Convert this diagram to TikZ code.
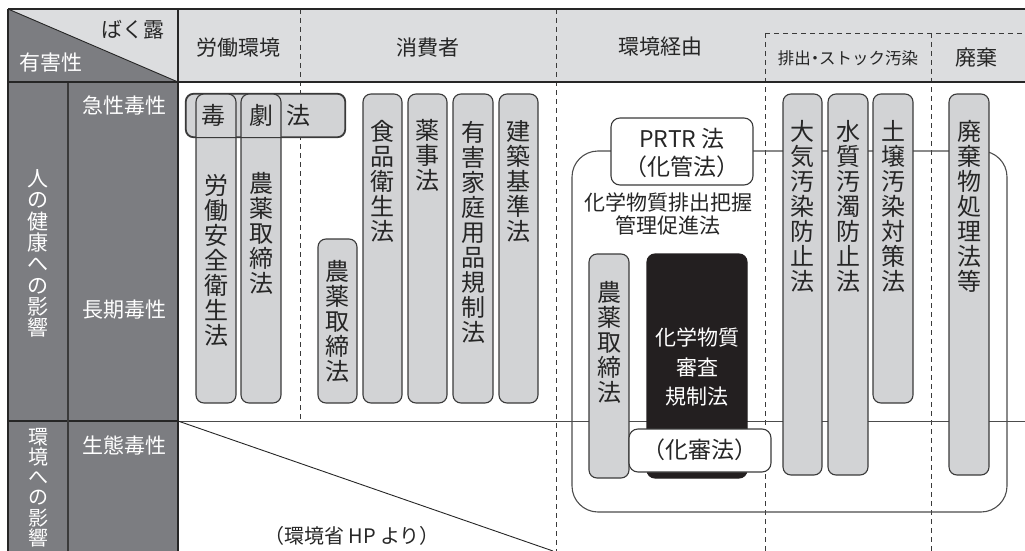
\documentclass[tikz,border=0pt]{standalone}
\usepackage{fontspec}
\setmainfont{Noto Sans CJK JP}
\newfontfamily\haltfont[RawFeature=+halt]{Noto Sans CJK JP}
\definecolor{dkgray}{HTML}{7C7D81}
\definecolor{ltgray}{HTML}{DCDDDF}
\definecolor{boxgray}{HTML}{D2D3D5}
\definecolor{edge}{HTML}{3A3A3A}
\definecolor{blk}{HTML}{231F20}
\begin{document}
\begin{tikzpicture}[x=1pt,y=-1pt,
  lawbox/.style={draw=edge, line width=1.1pt, fill=boxgray, rounded corners=8pt, inner sep=0pt},
  whitebox/.style={draw=edge, line width=1.1pt, fill=white, rounded corners=9pt, inner sep=0pt},
  blackbox/.style={draw=blk, line width=1.1pt, fill=blk, rounded corners=8pt, inner sep=0pt},
  lbl/.style={inner sep=0pt, font=\fontsize{21}{24}\selectfont, text=black!85},
  wlbl/.style={inner sep=0pt, font=\fontsize{21}{24}\selectfont, text=white},
  vtext/.style={inner sep=0pt, align=center, font=\fontsize{24}{25}\selectfont, text=black!85},
  wvtext/.style={inner sep=0pt, align=center, text=white},
  dashline/.style={draw=edge, line width=0.9pt, dash pattern=on 5pt off 4pt},
  rule/.style={draw=edge, line width=1.1pt},
  frame/.style={draw=black!85, line width=1.9pt},
  bigframe/.style={draw=black!70, line width=1.1pt, rounded corners=26pt}]
\useasboundingbox (0,0) rectangle (1025,551);
% ---- header fills
\fill[ltgray] (178,9) rectangle (1025,82);
\fill[ltgray] (8,9) -- (178,9) -- (178,82) -- cycle;
\fill[dkgray] (8,9) -- (178,82) -- (8,82) -- cycle;
\fill[dkgray] (8,82) rectangle (178,551);
% ---- corner coordinates
\coordinate (tl) at (8,9);
\coordinate (tr) at (1025,9);
\coordinate (bl) at (8,551);
\coordinate (hl) at (8,82);
\coordinate (hr) at (1025,82);
\coordinate (hc) at (178,82);
\coordinate (ct) at (178,9);
\coordinate (cb) at (178,551);
\coordinate (c2t) at (68,82);
\coordinate (c2b) at (68,551);
\coordinate (ml) at (8,421);
\coordinate (mc) at (178,421);
\coordinate (mr) at (1025,421);
\coordinate (dg) at (553,551);
% dashed separators
\coordinate (d1t) at (300,9);   \coordinate (d1b) at (300,421);
\coordinate (d2t) at (556,9);   \coordinate (d2b) at (556,551);
\coordinate (d3t) at (765,33);  \coordinate (d3b) at (765,551);
\coordinate (d4t) at (931,33);  \coordinate (d4b) at (931,551);
\coordinate (d5r) at (1025,33);
\draw[dashline] (d1t) -- (d1b);
\draw[dashline] (d2t) -- (d2b);
\draw[dashline] (d3t) -- (d3b);
\draw[dashline] (d4t) -- (d4b);
\draw[dashline] (d3t) -- (d5r);
% row line and diagonals
\draw[draw=black!70, line width=1pt] (mc) -- (mr);
\draw[draw=black!85, line width=1.1pt] (ml) -- (mc);
\draw[draw=black!85, line width=0.9pt] (tl) -- (hc);
\draw[draw=black!85, line width=0.9pt] (mc) -- (dg);
\draw[rule] (c2t) -- (c2b);
\draw[draw=black!85, line width=1.5pt] (ct) -- (cb);
\draw[frame] (hl) -- (hr);
\draw[frame] (tl) -- (tr);
\draw[frame] (tl) -- (bl);
% ---- header labels
\node[lbl] (bakuro) at (133,30) {ばく露};
\node[wlbl] (yugai) at (51,63) {有害性};
\node[lbl] (rodo) at (238,48) {労働環境};
\node[lbl] (shohi) at (428,48) {消費者};
\node[lbl] (kankyo) at (660,47) {環境経由};
\node[lbl, font=\haltfont\fontsize{16.5}{18}\selectfont] (haishutsu) at (848,58) {排出・ストック汚染};
\node[lbl] (haiki) at (976,58) {廃棄};
% ---- left column labels
\node[wvtext, font=\fontsize{21}{21.3}\selectfont] (hito) at (38,253.5) {人\\の\\健\\康\\へ\\の\\影\\響};
\node[wvtext, font=\fontsize{20}{20.2}\selectfont] (kankyoe) at (38,487.5) {環\\境\\へ\\の\\影\\響};
\node[wlbl] (kyusei) at (124,105) {急性毒性};
\node[wlbl] (choki) at (124,310) {長期毒性};
\node[wlbl] (seitai) at (124,445) {生態毒性};
% ---- big frame (PRTR)
\draw[bigframe] (572,151) rectangle (1007,512);
% ---- law boxes
\node[lawbox, minimum width=159pt, minimum height=43pt] (dokugeki) at (265.5,115.5) {};
\node[lawbox, minimum width=40pt, minimum height=309pt] (anzen) at (216,248.5) {};
\node[lawbox, minimum width=40pt, minimum height=309pt] (noyakuA) at (261,248.5) {};
\draw[draw=edge, line width=1.1pt, rounded corners=8pt] (dokugeki.south west) rectangle (dokugeki.north east);
\node[lawbox, minimum width=39pt, minimum height=164pt] (noyakuB) at (337.5,321) {};
\node[lawbox, minimum width=39pt, minimum height=309pt] (shokuhin) at (382.5,248.5) {};
\node[lawbox, minimum width=39pt, minimum height=309pt] (yakuji) at (427.5,248.5) {};
\node[lawbox, minimum width=40pt, minimum height=309pt] (yugaikatei) at (473,248.5) {};
\node[lawbox, minimum width=39pt, minimum height=309pt] (kenchiku) at (518.5,248.5) {};
\node[lawbox, minimum width=40pt, minimum height=224pt] (noyakuC) at (609,366) {};
\node[blackbox, minimum width=100pt, minimum height=224pt] (kashin) at (697,366) {};
\node[whitebox, minimum width=142pt, minimum height=43pt] (kashinho) at (700,450.5) {};
\node[whitebox, minimum width=142pt, minimum height=67pt] (prtr) at (682,151.5) {};
\node[lawbox, minimum width=39pt, minimum height=381pt] (taiki) at (802.5,284.5) {};
\node[lawbox, minimum width=40pt, minimum height=381pt] (suishitsu) at (848,284.5) {};
\node[lawbox, minimum width=40pt, minimum height=309pt] (dojo) at (893,248.5) {};
\node[lawbox, minimum width=40pt, minimum height=381pt] (haikibutsu) at (969,284.5) {};
% ---- texts in boxes
\node[lbl, font=\fontsize{24}{25}\selectfont] (doku) at (213,115) {毒};
\node[lbl, font=\fontsize{24}{25}\selectfont] (geki) at (261,115) {劇};
\node[lbl, font=\fontsize{24}{25}\selectfont] (hoA) at (298,115) {法};
\node[vtext] (t-anzen) at (216,260) {労\\働\\安\\全\\衛\\生\\法};
\node[vtext] (t-noyakuA) at (261,233.5) {農\\薬\\取\\締\\法};
\node[vtext] (t-noyakuB) at (337.5,321.5) {農\\薬\\取\\締\\法};
\node[vtext] (t-shokuhin) at (382.5,181) {食\\品\\衛\\生\\法};
\node[vtext] (t-yakuji) at (427.5,155) {薬\\事\\法};
\node[vtext] (t-yugai) at (473,232.5) {有\\害\\家\\庭\\用\\品\\規\\制\\法};
\node[vtext] (t-kenchiku) at (518.5,181) {建\\築\\基\\準\\法};
\node[vtext] (t-noyakuC) at (609,342.5) {農\\薬\\取\\締\\法};
\node[wvtext, font=\fontsize{21}{29.5}\selectfont] (t-kashin) at (697,367) {化学物質\\審査\\規制法};
\node[lbl, font=\haltfont\fontsize{23}{24}\selectfont] (t-kashinho) at (700,450) {（化審法）};
\node[lbl, font=\fontsize{23}{24}\selectfont] (t-prtr1) at (682,139) {PRTR 法};
\node[lbl, font=\haltfont\fontsize{23}{24}\selectfont] (t-prtr2) at (682,167) {（化管法）};
\node[lbl, align=center, font=\fontsize{21}{23}\selectfont] (t-prtrname) at (668,213.5) {化学物質排出把握\\管理促進法};
\node[vtext] (t-taiki) at (802.5,206.5) {大\\気\\汚\\染\\防\\止\\法};
\node[vtext] (t-suishitsu) at (848,206.5) {水\\質\\汚\\濁\\防\\止\\法};
\node[vtext] (t-dojo) at (893,206.5) {土\\壌\\汚\\染\\対\\策\\法};
\node[vtext] (t-haikibutsu) at (969,206.5) {廃\\棄\\物\\処\\理\\法\\等};
% ---- source note
\node[lbl, font=\haltfont\fontsize{20}{22}\selectfont] (source) at (352,536) {（環境省 HP より）};
\end{tikzpicture}
\end{document}
